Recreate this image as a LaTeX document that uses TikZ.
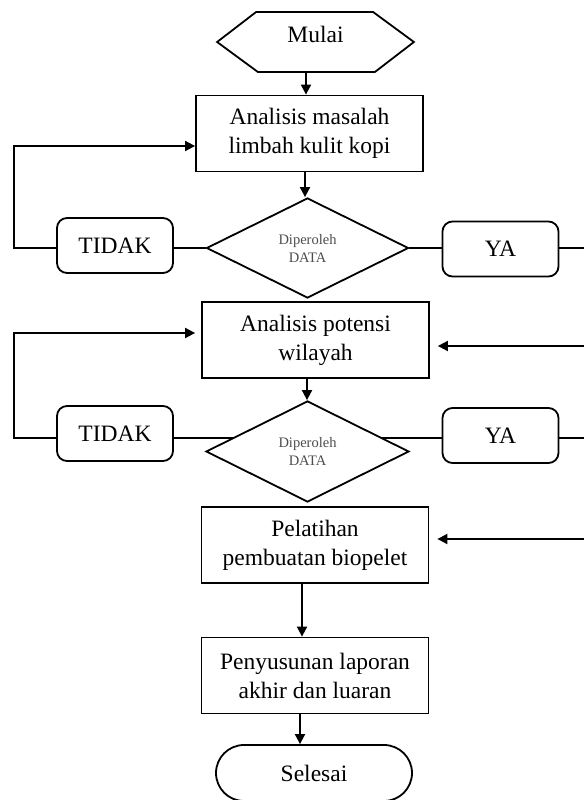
\documentclass[tikz,border=0pt]{standalone}
\usepackage{fontspec}
\setmainfont{Liberation Serif}
\usetikzlibrary{shapes.geometric,arrows.meta,calc}
\begin{document}
\begin{tikzpicture}[x=1pt,y=-1pt,
  line width=1.8pt,
  arr/.style={-{Triangle[length=10pt,width=10pt]}},
  bigtext/.style={font=\fontsize{23.5}{29}\selectfont},
  procbox/.style={draw, rectangle, minimum width=227pt, minimum height=76pt, inner sep=0pt, align=center, bigtext},
  decbox/.style={draw, diamond, minimum width=202pt, minimum height=100pt, inner sep=0pt, align=center, font=\fontsize{14.5}{18}\selectfont, text=black!70},
  ansbox/.style={draw, rectangle, rounded corners=10pt, minimum width=116pt, minimum height=55pt, inner sep=0pt, bigtext},
  endbox/.style={draw, rectangle, rounded corners=28pt, minimum width=196pt, minimum height=56pt, inner sep=0pt, bigtext},
]
\useasboundingbox (0,0) rectangle (584,800);

% start hexagon
\node[minimum width=195pt, minimum height=60pt, inner sep=0pt] (start) at (315.5,42) {};
\draw (start.west) -- ++(39,-30) -- ++(117,0) -- (start.east) -- ++(-39,30) -- ++(-117,0) -- cycle;
\node[bigtext, inner sep=0pt] (starttxt) at (315.5,34) {Mulai};

\node[procbox] (b1) at (309.5,133.5) {Analisis masalah\\limbah kulit kopi};
\node[decbox] (d1) at (307.5,248) {Diperoleh\\DATA};
\node[ansbox] (t1) at (115,245.5) {TIDAK};
\node[ansbox] (y1) at (500.5,249) {YA};

\node[procbox] (b2) at (315.5,340) {Analisis potensi\\wilayah};
\node[decbox, minimum width=203pt, minimum height=101pt] (d2) at (307.5,451.5) {Diperoleh\\DATA};
\node[ansbox] (t2) at (115,433.5) {TIDAK};
\node[ansbox] (y2) at (500.5,435.5) {YA};

\node[procbox] (b3) at (315,545) {Pelatihan\\pembuatan biopelet};
\node[procbox] (b4) at (315,675.5) {Penyusunan laporan\\akhir dan luaran};
\node[endbox] (end) at (314,773) {Selesai};

\coordinate (redge) at (584,0);
\coordinate (r2) at (584,346);
\coordinate (r3) at (584,539);

% main flow
\draw[arr] ($(start.south)+(-9.5,0)$) -- ($(b1.north)+(-3.5,0)$);
\draw[arr] ($(b1.south)+(-4.5,0)$) -- ($(d1.north)+(-2.5,0)$);
\draw[arr] ($(b2.south)+(-8.5,0)$) -- ($(d2.north)+(-0.5,0)$);
\draw[arr] ($(b3.south)+(-13,0)$) -- ($(b4.north)+(-13,0)$);
\draw[arr] ($(b4.south)+(-15,0)$) -- ($(end.north)+(-14,0)$);

% decision 1
\draw (d1.west) -- (d1.west -| t1.east);
\draw[arr] (d1.west -| t1.west) -- ++(-42,0) |- ($(b1.west)+(0,12.5)$);
\draw (d1.east) -- (d1.east -| y1.west);
\draw (d1.east -| y1.east) -- (d1.east -| redge);

% decision 2
\coordinate (d2l) at ($(d2.west)!0.27!(d2.north)$);
\coordinate (d2r) at ($(d2.east)!0.27!(d2.north)$);
\draw (d2l) -- (d2l -| t2.east);
\draw[arr, shorten >=6pt] (d2l -| t2.west) -- ++(-42,0) |- ($(b2.west)+(0,-7)$);
\draw (d2r) -- (d2r -| y2.west);
\draw (d2r -| y2.east) -- (d2r -| redge);

% arrows from right edge
\draw[arr, shorten >=8pt] (r2) -- (r2 -| b2.east);
\draw[arr, shorten >=8pt] (r3) -- (r3 -| b3.east);
\end{tikzpicture}
\end{document}
